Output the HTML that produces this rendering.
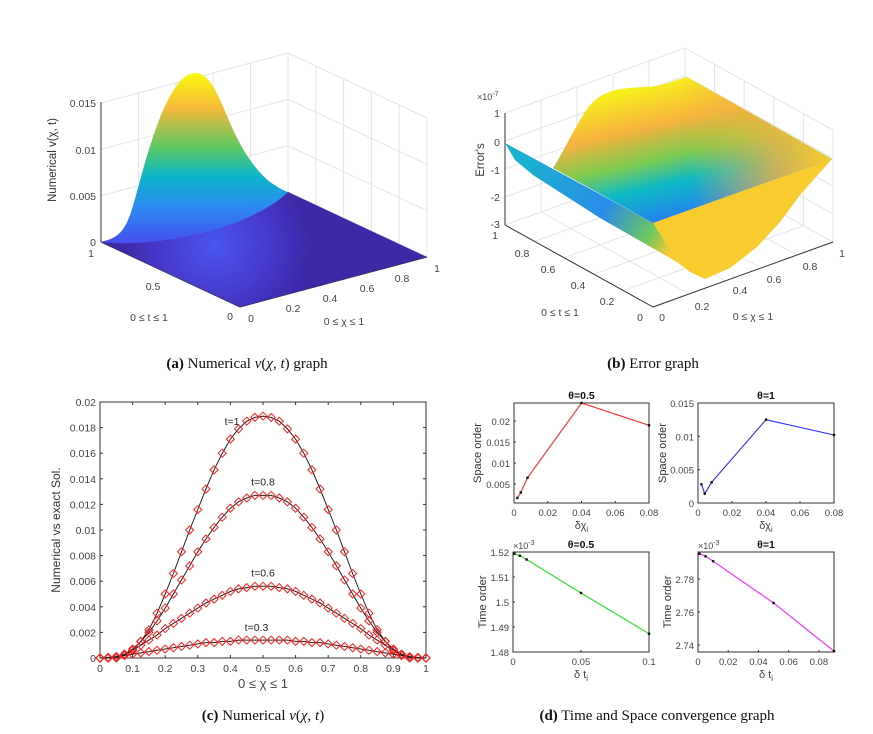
<!DOCTYPE html>
<html><head><meta charset="utf-8">
<style>
body{margin:0;background:#fff;}
svg{display:block;font-family:"Liberation Sans",sans-serif;}
.tk{font-size:10.5px;fill:#444;}
.tkd{font-size:9.5px;fill:#444;}
.cap{font-family:"Liberation Serif",serif;font-size:15px;fill:#111;}
.grid{stroke:#e4e4e4;stroke-width:1;fill:none;}
.ax{stroke:#333;stroke-width:1;fill:none;}
</style></head>
<body>
<svg id="fig" width="873" height="734" viewBox="0 0 873 734" xmlns="http://www.w3.org/2000/svg">
<defs>
<linearGradient id="hillA" x1="0" y1="73" x2="0" y2="280" gradientUnits="userSpaceOnUse">
<stop offset="0" stop-color="#f9fb0e"/><stop offset="0.17" stop-color="#f5b93a"/><stop offset="0.36" stop-color="#5cc863"/>
<stop offset="0.5" stop-color="#0bb5c9"/><stop offset="0.64" stop-color="#2a8cf0"/><stop offset="0.82" stop-color="#4650ee"/><stop offset="1" stop-color="#3e2aa8"/>
</linearGradient>
<radialGradient id="floorA" cx="215" cy="245" r="95" gradientUnits="userSpaceOnUse">
<stop offset="0" stop-color="#4a55f0"/><stop offset="0.6" stop-color="#4538c8"/><stop offset="1" stop-color="#3d29a6"/>
</radialGradient>
<linearGradient id="topB" x1="620" y1="92" x2="650" y2="222" gradientUnits="userSpaceOnUse">
<stop offset="0" stop-color="#f7f01c"/><stop offset="0.3" stop-color="#f6b23e"/><stop offset="0.55" stop-color="#7fcb4f"/>
<stop offset="0.75" stop-color="#0fbac4"/><stop offset="1" stop-color="#2383ee"/>
</linearGradient>
<linearGradient id="ovB" x1="832" y1="159" x2="690" y2="175" gradientUnits="userSpaceOnUse">
<stop offset="0" stop-color="#f8cd2c" stop-opacity="1"/><stop offset="0.4" stop-color="#f4b53e" stop-opacity="0.8"/><stop offset="1" stop-color="#f4b53e" stop-opacity="0"/>
</linearGradient>
<linearGradient id="stripB" x1="520" y1="170" x2="670" y2="250" gradientUnits="userSpaceOnUse">
<stop offset="0" stop-color="#1ab2d0"/><stop offset="0.55" stop-color="#2a8ce8"/><stop offset="0.85" stop-color="#6cc860"/><stop offset="1" stop-color="#f7c830"/>
</linearGradient>
</defs>

<!-- Panel A -->
<g id="panelA">
 <g id="gridA"></g>
 <polygon points="101,242 240,307 427,257 288,192" fill="url(#floorA)"/>
 <path fill="url(#hillA)"
  d="M101,242 C120,238 125,228 130,215 C137,195 142,170 152,140 C165,100 180,73 195,73 C210,73 218,95 228,118 C240,148 255,170 270,182 C280,189 285,191 288,192 C270,210 230,228 190,236 C150,244 120,244 101,242 Z"/>
 <line class="ax" x1="101" y1="102" x2="101" y2="242"/>
 <g id="labelsA"></g>
</g>

<!-- Panel B -->
<g id="panelB">
 <g id="gridB"></g>
 <polygon points="653,223 832,159 815,178 800,195 780,222 757,247 730,268 705,279 690,272 676,258" fill="#f8cb2e"/>
 <polygon points="505,143 653,223 676,258 690,272 677,262 600,218 533,175 515,160" fill="url(#stripB)"/>
 <path fill="url(#topB)" d="M553,168 C565,150 575,125 590,105 C605,88 625,88 645,87 C665,86 675,80 687,77 L832,159 L653,223 Z"/>
 <path fill="url(#ovB)" d="M553,168 C565,150 575,125 590,105 C605,88 625,88 645,87 C665,86 675,80 687,77 L832,159 L653,223 Z"/>
 <line class="ax" x1="505" y1="113" x2="505" y2="225"/>
 <g id="labelsB"></g>
</g>

<text class="cap" x="247" y="368" text-anchor="middle"><tspan font-weight="bold">(a)</tspan> Numerical <tspan font-style="italic">v</tspan>(<tspan font-style="italic">χ</tspan>, <tspan font-style="italic">t</tspan>) graph</text>
<text class="cap" x="653" y="368" text-anchor="middle"><tspan font-weight="bold">(b)</tspan> Error graph</text>

<g id="panelC"></g>
<text class="cap" x="263" y="720" text-anchor="middle"><tspan font-weight="bold">(c)</tspan> Numerical <tspan font-style="italic">v</tspan>(<tspan font-style="italic">χ</tspan>, <tspan font-style="italic">t</tspan>)</text>

<g id="panelD"></g>
<text class="cap" x="657" y="720" text-anchor="middle"><tspan font-weight="bold">(d)</tspan> Time and Space convergence graph</text>
</svg>

<script>
// ---------- Panel C data ----------
const cX = [0,0.025,0.05,0.075,0.1,0.125,0.15,0.175,0.2,0.225,0.25,0.275,0.3,0.325,0.35,0.375,0.4,0.425,0.45,0.475,0.5,0.525,0.55,0.575,0.6,0.625,0.65,0.675,0.7,0.725,0.75,0.775,0.8,0.825,0.85,0.875,0.9,0.925,0.95,0.975,1];
const cT1 = [0,0,0,0.0002,0.0006,0.0013,0.0022,0.0035,0.005,0.0066,0.0083,0.01,0.0116,0.0132,0.0147,0.016,0.0171,0.0179,0.0185,0.0188,0.0189,0.0188,0.0185,0.0179,0.0171,0.016,0.0147,0.0132,0.0116,0.01,0.0083,0.0066,0.005,0.0035,0.0022,0.0013,0.0006,0.0002,0,0,0];
const cT08 = [0,0,0.0001,0.0003,0.0007,0.0013,0.002,0.0029,0.0039,0.005,0.0061,0.0072,0.0083,0.0093,0.0102,0.011,0.0117,0.0122,0.0125,0.0127,0.0127,0.0127,0.0125,0.0122,0.0117,0.011,0.0102,0.0093,0.0083,0.0072,0.0061,0.005,0.0039,0.0029,0.002,0.0013,0.0007,0.0003,0.0001,0,0];
const cT06 = [0,0,0.0001,0.0003,0.0006,0.001,0.0014,0.0018,0.0023,0.0027,0.0031,0.0035,0.0039,0.0043,0.0046,0.0049,0.0052,0.0054,0.0055,0.0056,0.0056,0.0056,0.0055,0.0054,0.0052,0.0049,0.0046,0.0043,0.0039,0.0035,0.0031,0.0027,0.0023,0.0018,0.0014,0.001,0.0006,0.0003,0.0001,0,0];
const cT03 = [0,0.00005,0.0001,0.0002,0.0003,0.0004,0.0005,0.0006,0.0007,0.0008,0.0009,0.001,0.0011,0.0012,0.0012,0.0013,0.0013,0.0014,0.0014,0.0014,0.0014,0.0014,0.0014,0.0014,0.0013,0.0013,0.0012,0.0012,0.0011,0.001,0.0009,0.0008,0.0007,0.0006,0.0005,0.0004,0.0003,0.0002,0.0001,0.00005,0];
const cSeriesNames = ["t=1","t=0.8","t=0.6","t=0.3"];
const cXTicks = [0,0.1,0.2,0.3,0.4,0.5,0.6,0.7,0.8,0.9,1];
const cYTicks = [0,0.002,0.004,0.006,0.008,0.01,0.012,0.014,0.016,0.018,0.02];
const cYTickLabels = ["0","0.002","0.004","0.006","0.008","0.01","0.012","0.014","0.016","0.018","0.02"];

// ---------- Panel D data ----------
const dSpaceX = [0.002,0.004,0.008,0.04,0.08];
const dSpaceHalf = [0.0017,0.003,0.0065,0.0243,0.019];
const dSpaceOne = [0.0028,0.0014,0.0031,0.0125,0.0102];
const dTimeX1 = [0.001,0.005,0.01,0.05,0.1];
const dTimeHalf = [1.5193,1.5185,1.517,1.5036,1.4873];
const dTimeX2 = [0.001,0.005,0.01,0.05,0.09];
const dTimeOne = [2.7953,2.7938,2.7908,2.7655,2.7363];

const NS="http://www.w3.org/2000/svg";
function mk(tag, attrs, parent, txt){
  const e=document.createElementNS(NS,tag);
  for(const k in attrs) e.setAttribute(k,attrs[k]);
  if(txt!==undefined) e.textContent=txt;
  parent.appendChild(e); return e;
}

// ---------- Panel C ----------
(function(){
  const g=document.getElementById('panelC');
  const L=100,R=426,T=402,B=658;
  const sx=v=>L+(v-0)/(1-0)*(R-L);
  const sy=v=>B-(v-0)/(0.02-0)*(B-T);
  const box=mk('rect',{x:L,y:T,width:R-L,height:B-T,fill:'none',stroke:'#333','stroke-width':1},g);
  
  
  cXTicks.forEach(v=>{
    const x=sx(v);
    mk('line',{x1:x,y1:B,x2:x,y2:B-3,stroke:'#333'},g);
    mk('line',{x1:x,y1:T,x2:x,y2:T+3,stroke:'#333'},g);
    const t=mk('text',{x:x,y:B+14,class:'tk','text-anchor':'middle'},g,String(v));
    
    
  });
  cYTicks.forEach((v,i)=>{
    const y=sy(v);
    mk('line',{x1:L,y1:y,x2:L+3,y2:y,stroke:'#333'},g);
    mk('line',{x1:R,y1:y,x2:R-3,y2:y,stroke:'#333'},g);
    const t=mk('text',{x:L-4,y:y+4,class:'tk','text-anchor':'end'},g,cYTickLabels[i]);
    
    
  });
  const xl=mk('text',{x:263,y:688,'font-size':'13','fill':'#444','text-anchor':'middle'},g,'0 ≤ χ ≤ 1');
  
  
  const yl=mk('text',{x:0,y:0,'font-size':'12','fill':'#333','text-anchor':'middle',transform:'translate(60,530) rotate(-90)'},g,'Numerical vs exact Sol.');
  
  
  const series=[cT1,cT08,cT06,cT03];
  series.forEach((arr,si)=>{
    const sg=mk('g',{},g);
    
    
    const pts=arr.map((v,i)=>sx(cX[i]).toFixed(1)+','+sy(v).toFixed(1)).join(' ');
    mk('polyline',{points:pts,fill:'none',stroke:'#222','stroke-width':1},sg);
    arr.forEach((v,i)=>{
      const x=sx(cX[i]),y=sy(v);
      const d=mk('path',{d:`M${x-4},${y} L${x},${y-4} L${x+4},${y} L${x},${y+4} Z`,fill:'none',stroke:'#ff2020','stroke-width':1},sg);
      
      
    });
  });
  const peaks=[cT1[20],cT08[20],cT06[20],cT03[20]];
  const lx=[0.405,0.5,0.5,0.48];
  const off=[9,-10,-10,-9];
  peaks.forEach((p,i)=>{
    const t=mk('text',{x:sx(lx[i]),y:sy(p)+off[i],'font-size':'10.5','fill':'#222','text-anchor':'middle'},g,cSeriesNames[i]);
    
    
  });
})();

// ---------- Panel D ----------
function subplot(o){
  const g=mk('g',{},document.getElementById('panelD'));
  
  
  const {L,R,T,B,x0,x1,y0,y1}=o;
  const sx=v=>L+(v-x0)/(x1-x0)*(R-L);
  const sy=v=>B-(v-y0)/(y1-y0)*(B-T);
  mk('rect',{x:L,y:T,width:R-L,height:B-T,fill:'#fff',stroke:'#333','stroke-width':1},g);
  o.xt.forEach((v,i)=>{
    const x=sx(v);
    mk('line',{x1:x,y1:B,x2:x,y2:B-2,stroke:'#333'},g);
    const t=mk('text',{x:x,y:B+13,class:'tkd','text-anchor':'middle'},g,o.xtl[i]);
    
    
  });
  o.yt.forEach((v,i)=>{
    const y=sy(v);
    mk('line',{x1:L,y1:y,x2:L+2,y2:y,stroke:'#333'},g);
    const t=mk('text',{x:L-4,y:y+4,class:'tkd','text-anchor':'end'},g,o.ytl[i]);
    
    
  });
  const pts=o.xs.map((v,i)=>sx(v).toFixed(1)+','+sy(o.ys[i]).toFixed(1)).join(' ');
  const pl=mk('polyline',{points:pts,fill:'none',stroke:o.color,'stroke-width':1.1},g);
  
  
  o.xs.forEach((v,i)=>{
    const c=mk('rect',{x:sx(v)-1.2,y:sy(o.ys[i])-1.2,width:2.4,height:2.4,fill:'#111'},g);
    
    
  });
  const tt=mk('text',{x:(L+R)/2,y:T-4,'font-size':'10.5','font-weight':'bold','fill':'#111','text-anchor':'middle'},g,o.title);
  
  
  const yl=mk('text',{x:0,y:0,'font-size':'11','fill':'#333','text-anchor':'middle',transform:`translate(${o.ylx},${(T+B)/2}) rotate(-90)`},g,o.ylabel);
  
  
  const xl=mk('text',{x:(L+R)/2,y:B+26,'font-size':'11','fill':'#444','text-anchor':'middle'},g);
  
  
  mk('tspan',{},xl,o.xlabel[0]);
  mk('tspan',{dy:'3','font-size':'8'},xl,o.xlabel[1]);
  if(o.exp){
    const e=mk('text',{x:L,y:T-3,'font-size':'9','fill':'#444'},g,'×10');
    
    
    mk('tspan',{dy:'-4','font-size':'7'},e,'-3');
  }
}
subplot({name:'space-order-theta-0-5',L:514,R:649,T:403,B:503,x0:0,x1:0.08,y0:0.0005,y1:0.0243,
  xt:[0,0.02,0.04,0.06,0.08],xtl:['0','0.02','0.04','0.06','0.08'],
  yt:[0.005,0.01,0.015,0.02],ytl:['0.005','0.01','0.015','0.02'],
  xs:dSpaceX,ys:dSpaceHalf,color:'#ff2a2a',title:'θ=0.5',ylabel:'Space order',ylx:481,xlabel:['δχ','i']});
subplot({name:'space-order-theta-1',L:698,R:834,T:403,B:503,x0:0,x1:0.08,y0:0,y1:0.015,
  xt:[0,0.02,0.04,0.06,0.08],xtl:['0','0.02','0.04','0.06','0.08'],
  yt:[0,0.005,0.01,0.015],ytl:['0','0.005','0.01','0.015'],
  xs:dSpaceX,ys:dSpaceOne,color:'#2a2aff',title:'θ=1',ylabel:'Space order',ylx:666,xlabel:['δχ','i']});
subplot({name:'time-order-theta-0-5',L:513,R:649,T:552,B:652,x0:0,x1:0.1,y0:1.48,y1:1.52,
  xt:[0,0.05,0.1],xtl:['0','0.05','0.1'],
  yt:[1.48,1.49,1.5,1.51,1.52],ytl:['1.48','1.49','1.5','1.51','1.52'],
  xs:dTimeX1,ys:dTimeHalf,color:'#22e022',title:'θ=0.5',ylabel:'Time order',ylx:486,xlabel:['δ t','i'],exp:true});
subplot({name:'time-order-theta-1',L:698,R:834,T:552,B:652,x0:0,x1:0.09,y0:2.7358,y1:2.7964,
  xt:[0,0.02,0.04,0.06,0.08],xtl:['0','0.02','0.04','0.06','0.08'],
  yt:[2.74,2.76,2.78],ytl:['2.74','2.76','2.78'],
  xs:dTimeX2,ys:dTimeOne,color:'#ff22ff',title:'θ=1',ylabel:'Time order',ylx:671,xlabel:['δ t','i'],exp:true});

// ---------- 3D walls / labels ----------
function walls(gid, left, front, right, back, H, nz){
  const g=document.getElementById(gid);
  const line=(a,b)=>mk('line',{x1:a[0],y1:a[1],x2:b[0],y2:b[1],class:'grid'},g);
  for(let k=0;k<=nz;k++){
    const h=H*k/nz;
    line([left[0],left[1]-h],[back[0],back[1]-h]);
    line([back[0],back[1]-h],[right[0],right[1]-h]);
  }
  for(let f=0;f<=1.0001;f+=0.2){
    const p=[left[0]+(back[0]-left[0])*f,left[1]+(back[1]-left[1])*f];
    line(p,[p[0],p[1]-H]);
    const q=[right[0]+(back[0]-right[0])*f,right[1]+(back[1]-right[1])*f];
    line(q,[q[0],q[1]-H]);
    line([front[0]+(right[0]-front[0])*f,front[1]+(right[1]-front[1])*f],[left[0]+(back[0]-left[0])*f,left[1]+(back[1]-left[1])*f]);
    line([front[0]+(left[0]-front[0])*f,front[1]+(left[1]-front[1])*f],[right[0]+(back[0]-right[0])*f,right[1]+(back[1]-right[1])*f]);
  }
  line(left,front); line(front,right);
  g.lastChild.setAttribute('class','ax'); g.children[g.children.length-2].setAttribute('class','ax');
}
walls('gridA',[101,242],[240,307],[427,257],[288,192],139,3);
walls('gridB',[505,225],[653,307],[833,242],[685,160],112,4);

function lbl(gid,items,name){
  const g=document.getElementById(gid);
  items.forEach(it=>{
    const t=mk('text',{x:it[0],y:it[1],class:'tk','text-anchor':it[3]||'middle','font-size':it[4]||'10.5'},g,it[2]);
    
    
  });
}
lbl('labelsA',[[96,246,'0','end'],[96,200,'0.005','end'],[96,154,'0.01','end'],[96,107,'0.015','end'],
 [91,257,'1'],[153,290,'0.5'],[230,320,'0'],
 [251,322,'0'],[293,312,'0.2'],[330,302,'0.4'],[367,292,'0.6'],[402,282,'0.8'],[437,272,'1'],
 [149,321,'0 ≤ t ≤ 1','middle','12.5'],[344,325,'0 ≤ χ ≤ 1','middle','12.5']],'tick-label-a');
const ya=mk('text',{x:0,y:0,'font-size':'11.5',fill:'#333','text-anchor':'middle',transform:'translate(56,160) rotate(-90)'},document.getElementById('labelsA'),'Numerical v(χ, t)');



lbl('labelsB',[[500,117,'1','end'],[500,146,'0','end'],[500,174,'-1','end'],[500,201,'-2','end'],[500,228,'-3','end'],
 [495,239,'1'],[522,257,'0.8'],[548,273,'0.6'],[578,289,'0.4'],[607,305,'0.2'],[640,321,'0'],
 [662,321,'0'],[702,310,'0.2'],[740,294,'0.4'],[774,283,'0.6'],[810,270,'0.8'],[842,257,'1'],
 [560,316,'0 ≤ t ≤ 1','middle','12.5'],[753,320,'0 ≤ χ ≤ 1','middle','12.5']],'tick-label-b');
const eb=mk('text',{x:477,y:100,'font-size':'9',fill:'#444'},document.getElementById('labelsB'),'×10');


mk('tspan',{dy:'-4','font-size':'7'},eb,'-7');
const yb=mk('text',{x:0,y:0,'font-size':'11.5',fill:'#333','text-anchor':'middle',transform:'translate(484,160) rotate(-90)'},document.getElementById('labelsB'),"Error's");


</script>
</body></html>
